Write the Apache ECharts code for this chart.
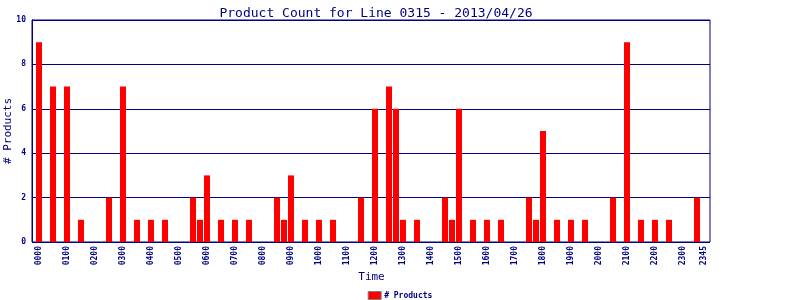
<!DOCTYPE html>
<html>
<head>
<meta charset="utf-8">
<script src="https://cdn.jsdelivr.net/npm/echarts@6/dist/echarts.min.js"></script>
<style>html,body{margin:0;padding:0;background:#fff}#c{width:800px;height:300px}</style>
</head>
<body>
<div id="c"></div>
<script>
// 15-minute slots, 0000 .. 2345
var hours = ['00','01','02','03','04','05','06','07','08','09','10','11','12','13','14','15','16','17','18','19','20','21','22','23'];
var quarters = ['00','15','30','45'];
var categories = [];
hours.forEach(function (h) { quarters.forEach(function (q) { categories.push(h + q); }); });

var productCounts = [
  9,0,7,0,7,0,1,0,0,0,2,0,7,0,1,0,
  1,0,1,0,0,0,2,1,3,0,1,0,1,0,1,0,
  0,0,2,1,3,0,1,0,1,0,1,0,0,0,2,0,
  6,0,7,6,1,0,1,0,0,0,2,1,6,0,1,0,
  1,0,1,0,0,0,2,1,5,0,1,0,1,0,1,0,
  0,0,2,0,9,0,1,0,1,0,1,0,0,0,2,0
];
var yTicks = [0, 2, 4, 6, 8, 10];

var navy = '#000080';
var mono = 'DejaVu Sans Mono';
var chart = echarts.init(document.getElementById('c'));
chart.setOption({
  animation: false,
  backgroundColor: '#ffffff',
  title: {
    text: 'Product Count for Line 0315 - 2013/04/26',
    left: 371, top: 2, textAlign: 'center',
    textStyle: { fontFamily: mono, fontSize: 13, fontWeight: 'normal', color: navy }
  },
  legend: {
    data: ['# Products'],
    left: 'center', top: 291, padding: 0,
    itemWidth: 13, itemHeight: 8, itemGap: 4,
    icon: 'rect',
    itemStyle: { borderColor: '#808080', borderWidth: 1 },
    textStyle: { fontFamily: mono, fontSize: 8, fontWeight: 'bold', color: navy, padding: [0, 0, 0, -2] }
  },
  grid: [
    { left: 32, right: 90, top: 20, bottom: 58, show: true, borderColor: navy, borderWidth: 1, backgroundColor: 'transparent', containLabel: false, outerBoundsMode: 'none' },
    { left: 35.5, width: 672, top: 20, bottom: 58, containLabel: false, outerBoundsMode: 'none' }
  ],
  xAxis: [
    { type: 'category', gridIndex: 0, data: categories, show: false },
    {
      type: 'category', gridIndex: 1, data: categories,
      name: 'Time', nameLocation: 'middle', nameGap: 30, nameMoveOverlap: false,
      nameTextStyle: { fontFamily: mono, fontSize: 11, color: navy },
      axisLine: { show: false }, axisTick: { show: false },
      axisLabel: {
        interval: function (i) { return i % 4 === 0 || i === 95; },
        rotate: 90, margin: 4,
        fontFamily: mono, fontSize: 8, fontWeight: 'bold', color: navy
      }
    }
  ],
  yAxis: [
    {
      type: 'value', gridIndex: 0, min: 0, max: 10, interval: 2,
      name: '# Products', nameLocation: 'middle', nameGap: 18, nameMoveOverlap: false,
      nameTextStyle: { fontFamily: mono, fontSize: 11, color: navy },
      axisLine: { show: true, lineStyle: { color: navy } },
      axisTick: { show: false },
      splitLine: { show: true, lineStyle: { color: navy, width: 1 } },
      axisLabel: {
        margin: 6, fontFamily: mono, fontSize: 8, fontWeight: 'bold', color: navy,
        formatter: function (v) { return yTicks.indexOf(v) >= 0 ? String(v) : ''; }
      }
    },
    { type: 'value', gridIndex: 1, min: 0, max: 10, interval: 2, show: false, splitLine: { show: false } }
  ],
  series: [
    {
      name: '# Products', type: 'bar', xAxisIndex: 1, yAxisIndex: 1,
      data: productCounts, barWidth: 6,
      itemStyle: { color: '#ff0000' }
    }
  ]
});
</script>
</body>
</html>
